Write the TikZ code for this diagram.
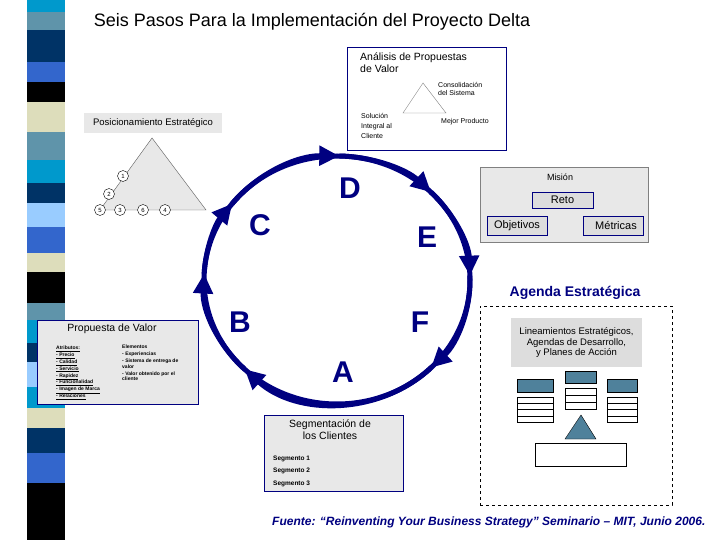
\documentclass[tikz,border=0pt]{standalone}
\usepackage{fontspec}
\setmainfont{Liberation Sans}
\usetikzlibrary{arrows.meta}

\definecolor{navy}{RGB}{0,0,128}
\definecolor{boxgray}{RGB}{232,232,232}
\definecolor{midgray}{RGB}{221,221,221}
\definecolor{stripecyan}{RGB}{0,153,204}
\definecolor{stripeteal}{RGB}{95,148,170}
\definecolor{stripenavy}{RGB}{0,51,102}
\definecolor{striperoyal}{RGB}{51,102,204}
\definecolor{stripebeige}{RGB}{221,221,187}
\definecolor{stripelight}{RGB}{153,204,255}
\definecolor{headteal}{RGB}{79,129,155}

\newcommand{\sz}[2]{\fontsize{#1}{#2}\selectfont}

\begin{document}
\begin{tikzpicture}[x=1pt,y=1pt,
  panel/.style={draw=navy,fill=boxgray,line width=0.6pt,inner sep=0},
  lbl/.style={inner sep=0,align=center},
  cyc/.style={navy,line width=5pt,-{Triangle[length=20pt,width=19pt]}},
  letter/.style={navy,inner sep=0,font=\bfseries\sz{30}{32}},
  num/.style={circle,draw,fill=white,minimum size=11pt,inner sep=0,font=\sz{6}{7}},
  mini/.style={inner sep=0,anchor=west,align=left}]
\useasboundingbox (0,0) rectangle (720,-540);

% side stripe
\foreach \ya/\yb/\c in {0/12/stripecyan,12/30/stripeteal,30/62/stripenavy,
    62/82/striperoyal,82/102/black,102/132/stripebeige,132/160/stripeteal,
    160/183/stripecyan,183/203/stripenavy,203/227/stripelight,227/253/striperoyal,
    253/272/stripebeige,272/303/black,303/320/stripeteal,320/343/stripecyan,
    343/362/stripenavy,362/387/stripelight,387/408/stripecyan,408/428/stripebeige,
    428/453/stripenavy,453/483/striperoyal,483/540/black}
  \fill[\c] (27,-\ya) rectangle (65,-\yb);

\node[lbl,font=\sz{18}{21}] (title) at (312,-22)
  {Seis Pasos Para la Implementación del Proyecto Delta};

% analisis de propuestas
\node[panel,fill=white,minimum width=159,minimum height=103] (analisis) at (426.5,-98.5) {};
\node[mini,font=\sz{10.5}{12}] (analisisT) at (360,-63) {Análisis de Propuestas\\de Valor};
\draw[gray] (403,-113) -- (423,-83) -- (446,-113) -- cycle;
\node[mini,font=\sz{7}{8.5}] (consol) at (438,-89) {Consolidación\\del Sistema};
\node[mini,font=\sz{7}{8.5}] (mejor) at (441,-122) {Mejor Producto};
\node[mini,font=\sz{7}{10}] (solucion) at (361,-126) {Solución\\Integral al\\Cliente};

% posicionamiento
\node[lbl,fill=boxgray,minimum width=138,minimum height=20,font=\sz{9.5}{11}] (posic) at (153,-123)
  {Posicionamiento Estratégico};
\coordinate (apex) at (152,-138);
\coordinate (base) at (100,-210);
\coordinate (corner) at (206,-210);
\filldraw[fill=boxgray,draw=gray!70!black] (apex) -- (base) -- (corner) -- cycle;
\node[num] (p1) at (123,-176) {1};
\node[num] (p2) at (109,-194) {2};
\node[num] (p5) at (base) {5};
\node[num] (p3) at (120,-210) {3};
\node[num] (p6) at (143,-210) {6};
\node[num] (p4) at (165,-210) {4};

% cycle
\coordinate (ctr) at (337,-280);
\draw[navy,line width=5pt] (ctr) ellipse [x radius=133,y radius=124];
\foreach \a/\b in {142/89,89/45,45/2,2/-45,-45/-134,-134/-183,-183/-218}
  \draw[cyc] ([shift={(\a:133 and 124)}]ctr) arc[start angle=\a,end angle=\b,x radius=133,y radius=124];
\node[letter] (D) at (350,-188) {D};
\node[letter] (C) at (260,-225) {C};
\node[letter] (E) at (427,-237) {E};
\node[letter] (B) at (240,-322) {B};
\node[letter] (F) at (420,-322) {F};
\node[letter] (A) at (343,-372) {A};

% mision
\node[panel,draw=gray,minimum width=168,minimum height=75] (mision) at (564,-204.5) {};
\node[lbl,font=\sz{9}{10}] (misionT) at (560,-177) {Misión};
\node[panel,fill=midgray,minimum width=61,minimum height=16,font=\sz{11}{12}] (reto) at (562.5,-200) {Reto};
\node[panel,fill=midgray,minimum width=60,minimum height=19,font=\sz{11}{12}] (objetivos) at (517,-226) {Objetivos};
\node[panel,fill=midgray,minimum width=60,minimum height=19,font=\sz{11}{12}] (metricas) at (613,-226) {\hspace*{6pt}Métricas};

% agenda estrategica
\node[lbl,navy,font=\bfseries\sz{14}{16}] (agendaT) at (575,-293) {Agenda Estratégica};
\node[draw,dashed,minimum width=192,minimum height=199,inner sep=0] (agenda) at (576,-405.5) {};
\node[lbl,fill=midgray,minimum width=131,minimum height=49,font=\sz{9.5}{10.5}] (lineam) at (576.5,-342.5)
  {Lineamientos Estratégicos,\\Agendas de Desarrollo,\\y Planes de Acción};
\foreach \xa/\xb/\ht/\hb/\tb/\r in {517/553/379/392/422/4,565/596/371/383/409/3,607/637/379/392/422/4}{
  \filldraw[fill=headteal,draw=black] (\xa,-\ht) rectangle (\xb,-\hb);
  \pgfmathsetmacro{\tt}{\hb+5}
  \pgfmathsetmacro{\dh}{(\tb-\tt)/\r}
  \draw (\xa,-\tt) rectangle (\xb,-\tb);
  \foreach \k in {1,...,\numexpr\r-1\relax}
    \draw (\xa,-\tt-\k*\dh) -- (\xb,-\tt-\k*\dh);
}
\filldraw[fill=headteal,draw=black] (565,-439) -- (581,-415) -- (596,-439) -- cycle;
\draw (535,-443) rectangle (626,-466);

% propuesta de valor
\node[panel,minimum width=161,minimum height=84] (propuesta) at (117.5,-362) {};
\node[lbl,font=\sz{10.5}{12}] (propuestaT) at (112,-329) {Propuesta de Valor};
\node[mini,anchor=north west,font=\bfseries\sz{5}{6.8}] (atributos) at (56,-346)
  {\underline{Atributos:}\\ \underline{- Precio}\\ \underline{- Calidad}\\ \underline{- Servicio}\\
   \underline{- Rapidez}\\ \underline{- Funcionalidad}\\ \underline{- Imagen de Marca}\\ \underline{- Relaciones}};
\node[mini,anchor=north west,font=\bfseries\sz{5}{5.5}] (elementos) at (122,-345)
  {Elementos\\[1.5pt]- Experiencias\\[1.5pt]- Sistema de entrega de\\valor\\[1.5pt]- Valor obtenido por el\\cliente};

% segmentacion
\node[panel,minimum width=139,minimum height=76] (segment) at (333.5,-453) {};
\node[lbl,font=\sz{10.5}{12}] (segmentT) at (330,-430) {Segmentación de\\los Clientes};
\node[mini,font=\bfseries\sz{6.5}{8}] (seg1) at (273,-459) {Segmento 1};
\node[mini,font=\bfseries\sz{6.5}{8}] (seg2) at (273,-471) {Segmento 2};
\node[mini,font=\bfseries\sz{6.5}{8}] (seg3) at (273,-484) {Segmento 3};

\node[mini,navy,font=\bfseries\itshape\sz{12}{14}] (fuente) at (272,-522)
  {Fuente: “Reinventing Your Business Strategy” Seminario – MIT, Junio 2006.};
\end{tikzpicture}
\end{document}
